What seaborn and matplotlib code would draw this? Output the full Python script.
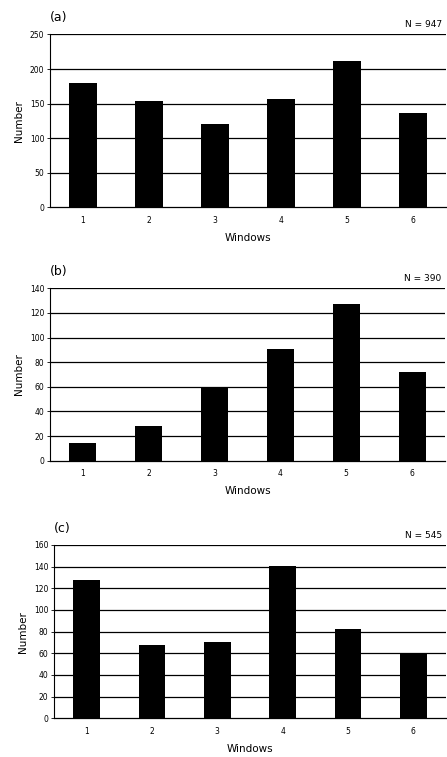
import matplotlib
matplotlib.use("Agg")
import matplotlib.pyplot as plt
import seaborn as sns
import pandas as pd

windows = ["1", "2", "3", "4", "5", "6"]
counts_a = [180, 154, 120, 156, 212, 137]
counts_b = [14, 28, 60, 91, 127, 72]
counts_c = [128, 68, 70, 141, 82, 60]
panel_labels = ["(a)", "(b)", "(c)"]
n_labels = ["N = 947", "N = 390", "N = 545"]
ymaxes = [250, 140, 160]
ysteps = [50, 20, 20]

sns.set_style("white")
plt.rcParams['font.family'] = ['DejaVu Sans']
plt.rcParams['text.color'] = 'black'
plt.rcParams['axes.labelcolor'] = 'black'
plt.rcParams['xtick.color'] = 'black'
plt.rcParams['ytick.color'] = 'black'

fig = plt.figure(figsize=(4.47, 7.57), dpi=100)

# left, bottom, width, height in figure fractions
rects = [
    (50 / 447, (757 - 207.3) / 757, 396 / 447, 172.8 / 757),
    (50 / 447, (757 - 460.7) / 757, 395 / 447, 172.4 / 757),
    (54 / 447, (757 - 718.3) / 757, 392 / 447, 173.3 / 757),
]

for rect, vals, plab, nlab, ymax, ystep in zip(rects, [counts_a, counts_b, counts_c],
                                               panel_labels, n_labels, ymaxes, ysteps):
    ax = fig.add_axes(rect)
    df = pd.DataFrame({"Windows": windows, "Number": vals})
    sns.barplot(data=df, x="Windows", y="Number", color="black", width=0.41,
                saturation=1, ax=ax, zorder=3, edgecolor="black", linewidth=0)
    ax.set_ylim(0, ymax)
    ax.set_xlim(-0.5, 5.5)
    ticks = list(range(0, ymax + 1, ystep))
    ax.set_yticks(ticks)
    ax.set_yticklabels([str(t) for t in ticks], fontsize=5.5)
    ax.tick_params(axis="x", labelsize=5.5, length=0, pad=6)
    ax.tick_params(axis="y", length=2, width=0.6, pad=2, left=True)
    for t in ticks[1:]:
        ax.axhline(t, color="black", lw=0.9, zorder=1)
    for side in ["top", "right"]:
        ax.spines[side].set_visible(False)
    ax.spines["left"].set_color("black")
    ax.spines["left"].set_linewidth(0.8)
    ax.spines["bottom"].set_color("black")
    ax.spines["bottom"].set_linewidth(0.9)
    ax.set_xlabel("Windows", fontsize=7.5, labelpad=6)
    ax.set_ylabel("Number", fontsize=7.5, labelpad=4)
    ax.text(0.0, 1.06, plab, transform=ax.transAxes, fontsize=9, ha="left", va="bottom")
    ax.text(0.99, 1.03, nlab, transform=ax.transAxes, fontsize=6.5, ha="right", va="bottom")

fig.savefig("out.png", dpi=100)
